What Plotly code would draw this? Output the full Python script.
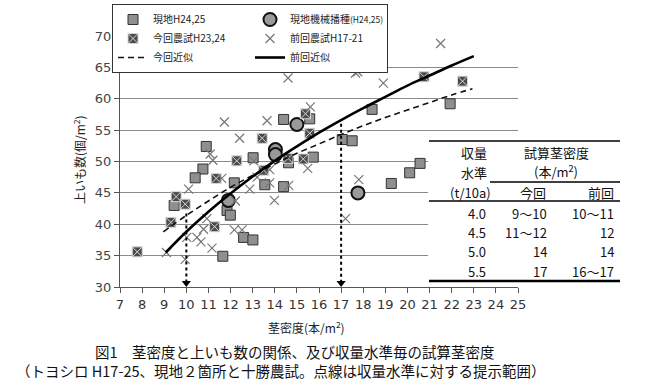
import plotly.graph_objects as go

FONT = "Noto Sans CJK JP"

# ---- data ----
genchi_x = [10.9, 10.75, 10.4, 9.45, 11.84, 11.99, 12.17, 12.59, 13.01, 11.65, 13.02, 13.55,
            14.4, 14.4, 14.62, 15.58, 15.74, 17.05, 17.5, 18.4, 18.68, 19.27, 20.1, 20.57, 21.93]
genchi_y = [52.4, 48.8, 47.4, 43.0, 42.2, 41.45, 46.6, 37.9, 37.5, 34.9, 50.6, 46.3,
            56.7, 46.0, 49.8, 56.8, 50.7, 53.5, 53.3, 58.3, 65.9, 46.5, 48.2, 49.7, 59.2]

kikai_x = [11.9, 14.03, 14.03, 15.0, 17.76]
kikai_y = [43.8, 51.9, 51.1, 55.9, 45.0]

konkai_x = [7.78, 9.3, 9.54, 9.95, 11.28, 11.35, 12.28, 13.43, 13.5, 14.6, 15.29, 15.39, 15.58, 20.75, 22.49]
konkai_y = [35.6, 40.3, 44.4, 43.2, 39.6, 47.3, 50.1, 53.7, 48.6, 50.5, 50.4, 57.6, 54.5, 63.5, 62.8]

zenkai_x = [9.1, 9.95, 10.02, 10.1, 10.48, 10.66, 10.78, 10.93, 11.16, 11.08, 11.2, 11.6, 11.72,
            12.22, 12.17, 12.52, 12.41, 12.87, 13.05, 13.2, 13.65, 13.77, 13.77, 13.98, 14.6,
            14.63, 15.49, 15.61, 17.2, 17.65, 17.75, 17.8, 18.91, 21.5]
zenkai_y = [35.5, 34.4, 37.9, 45.6, 37.9, 37.2, 39.2, 40.9, 36.2, 51.2, 50.2, 47.3, 56.3,
            43.7, 39.1, 39.1, 53.7, 45.6, 50.1, 47.5, 56.5, 48.7, 46.6, 43.8, 63.3,
            46.2, 48.9, 58.7, 40.9, 64.1, 64.3, 47.1, 62.5, 68.8]

# approximation curves
kon_fit_x = [8.96, 10, 11, 12, 13, 14, 15, 16, 17, 18, 19, 20, 21, 22, 22.94]
kon_fit_y = [38.8, 41.4, 43.7, 45.9, 47.8, 49.6, 51.3, 52.8, 54.3, 55.7, 57.0, 58.2, 59.4, 60.6, 61.6]
zen_fit_x = [9.07, 10, 11, 12, 13, 14, 15, 16, 17, 18, 19, 20, 21, 22, 23.0]
zen_fit_y = [35.5, 38.8, 42.0, 44.9, 47.6, 50.1, 52.4, 54.6, 56.6, 58.5, 60.3, 62.1, 63.7, 65.3, 66.8]

# presented stem densities (dotted arrows)
arrow_x = [10, 17]
arrow_top = [41.7, 56.0]
axis_bottom = 30

# table
level = ["4.0", "4.5", "5.0", "5.5"]
konkai_tab = ["9～10", "11～12", "14", "17"]
zenkai_tab = ["10～11", "12", "14", "16～17"]

x_ticks = list(range(7, 26))
y_ticks = list(range(30, 71, 5))

fig = go.Figure()

fig.add_trace(go.Scatter(x=genchi_x, y=genchi_y, mode="markers", name="現地H24,25",
                         marker=dict(symbol="square", size=10, color="#8f8f8f",
                                     line=dict(color="#333333", width=1)), cliponaxis=False))
fig.add_trace(go.Scatter(x=kikai_x, y=kikai_y, mode="markers",
                         name="現地機械播種<span style='font-size:8.5px'>(H24,25)</span>",
                         marker=dict(symbol="circle", size=13, color="#9a9a9a",
                                     line=dict(color="#111111", width=2)), cliponaxis=False))
fig.add_trace(go.Scatter(x=konkai_x, y=konkai_y, mode="markers", name="今回農試H23,24",
                         marker=dict(symbol="square-x", size=10, color="#4a4a4a",
                                     line=dict(color="#d8d8d8", width=1)), cliponaxis=False))
fig.add_trace(go.Scatter(x=zenkai_x, y=zenkai_y, mode="markers", name="前回農試H17-21",
                         marker=dict(symbol="x-thin", size=9,
                                     line=dict(color="#777777", width=1.2)), cliponaxis=False))
fig.add_trace(go.Scatter(x=kon_fit_x, y=kon_fit_y, mode="lines", name="今回近似",
                         line=dict(color="#111111", width=1.6, dash="6px,4px", shape="spline")))
fig.add_trace(go.Scatter(x=zen_fit_x, y=zen_fit_y, mode="lines", name="前回近似",
                         line=dict(color="#000000", width=2.6, shape="spline")))

for ax_, top in zip(arrow_x, arrow_top):
    fig.add_trace(go.Scatter(x=[ax_, ax_], y=[top, axis_bottom + 0.6], mode="lines", showlegend=False,
                             line=dict(color="#000000", width=2, dash="dot"), hoverinfo="skip"))
fig.add_trace(go.Scatter(x=arrow_x, y=[axis_bottom + 0.65] * len(arrow_x), mode="markers", showlegend=False,
                         marker=dict(symbol="triangle-down", size=8, color="#000000"),
                         cliponaxis=False, hoverinfo="skip"))

# ---- table ----
L, T, PW, PH = 120, 36, 398, 251
def xp(px):
    return (px - L) / PW
def yp(py):
    return 1 - (py - T) / PH

shapes = [
    dict(type="rect", xref="paper", yref="paper", x0=xp(428), x1=xp(622), y0=yp(284), y1=yp(139),
         fillcolor="white", line=dict(width=0), layer="above"),
    dict(type="line", xref="paper", yref="paper", x0=xp(429), x1=xp(620), y0=yp(141), y1=yp(141),
         line=dict(color="black", width=1.6), layer="above"),
    dict(type="line", xref="paper", yref="paper", x0=xp(490), x1=xp(620), y0=yp(182), y1=yp(182),
         line=dict(color="black", width=1.5), layer="above"),
    dict(type="line", xref="paper", yref="paper", x0=xp(429), x1=xp(620), y0=yp(201), y1=yp(201),
         line=dict(color="black", width=1.5), layer="above"),
    dict(type="line", xref="paper", yref="paper", x0=xp(429), x1=xp(620), y0=yp(281), y1=yp(281),
         line=dict(color="black", width=2.5), layer="above"),
]

tf = dict(family=FONT, size=13, color="#111111")
ann = []
def add(text, x, y, xa="center", font=tf, **kw):
    ann.append(dict(text=text, x=xp(x), y=yp(y), xref="paper", yref="paper", xanchor=xa,
                    yanchor="middle", showarrow=False, font=font, **kw))

add("収量", 474, 152)
add("水準", 474, 172)
add("(t/10a)", 470, 192)
add("試算茎密度", 556, 152)
add("(本/m<sup>2</sup>)", 556, 171)
add("今回", 533, 192)
add("前回", 616, 192, xa="right")
row_y = [213, 232, 251, 271]
for lv, kv, zv, ry in zip(level, konkai_tab, zenkai_tab, row_y):
    add(lv, 488, ry, xa="right")
    add(kv, 549, ry, xa="right")
    add(zv, 616, ry, xa="right")

# axis titles and caption
add("茎密度(本/m<sup>2</sup>)", 306, 327, font=dict(family=FONT, size=12, color="#222222"))
ann.append(dict(text="上いも数(個/m<sup>2</sup>)", x=xp(79), y=yp(160), xref="paper", yref="paper",
                textangle=-90, showarrow=False, xanchor="center", yanchor="middle",
                font=dict(family=FONT, size=12, color="#222222")))
cf = dict(family=FONT, size=14.5, color="#111111")
add("図1　茎密度と上いも数の関係、及び収量水準毎の試算茎密度", 295, 351, font=cf)
add("（トヨシロ H17-25、現地２箇所と十勝農試。点線は収量水準に対する提示範囲）", 281, 370, font=cf)

fig.update_layout(
    width=650, height=385,
    margin=dict(l=L, r=650 - L - PW, t=T, b=385 - T - PH, autoexpand=False),
    paper_bgcolor="white", plot_bgcolor="white",
    font=dict(family=FONT, color="#333333"),
    shapes=shapes, annotations=ann,
    legend=dict(x=xp(388), y=yp(4), xanchor="right", yanchor="top", orientation="h",
                entrywidth=92, bgcolor="white", bordercolor="#333333", borderwidth=1,
                font=dict(family=FONT, size=10, color="#222222"), itemwidth=30,
                tracegroupgap=0),
    xaxis=dict(range=[7, 25], tickvals=x_ticks, ticktext=[str(v) for v in x_ticks],
               showgrid=False, zeroline=False, showline=True, linecolor="#555555", linewidth=1,
               ticks="outside", ticklen=5, tickcolor="#555555",
               tickfont=dict(family="DejaVu Sans", size=13, color="#333333")),
    yaxis=dict(range=[30, 70], tickvals=y_ticks, showgrid=True, gridcolor="#8a8a8a", gridwidth=1,
               zeroline=False, showline=True, linecolor="#555555", linewidth=1,
               ticks="outside", ticklen=5, tickcolor="#555555",
               tickfont=dict(family="DejaVu Sans", size=13, color="#444444")),
    showlegend=True,
)

fig.write_html("out.html", config={"displayModeBar": False},
               post_script="document.body.style.margin='0px';")
